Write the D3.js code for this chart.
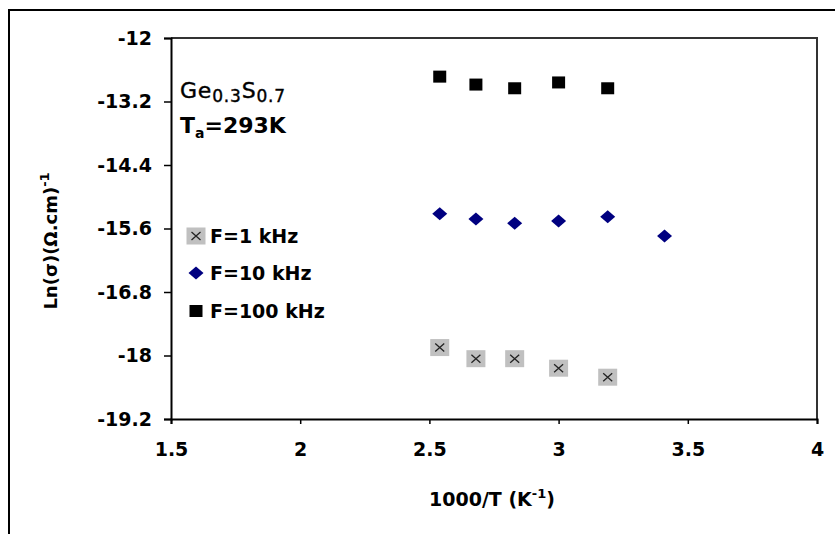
<!DOCTYPE html>
<html>
<head>
<meta charset="utf-8">
<script src="https://cdn.jsdelivr.net/npm/d3@7"></script>
<style>
  body { margin: 0; background: #fff; }
  svg text { font-family: "DejaVu Sans", sans-serif; font-weight: bold; fill: #000; }
</style>
</head>
<body>
<script>
var width = 835,
    height = 534;

// values
var xTicks = [1.5, 2, 2.5, 3, 3.5, 4];
var yTicks = [-12, -13.2, -14.4, -15.6, -16.8, -18, -19.2];

var x1k = [2.54, 2.68, 2.83, 3.0, 3.19];
var f1k = [-17.85, -18.06, -18.06, -18.24, -18.41];

var x10k = [2.54, 2.68, 2.83, 3.0, 3.19, 3.41];
var f10k = [-15.32, -15.42, -15.50, -15.46, -15.38, -15.74];

var x100k = [2.54, 2.68, 2.83, 3.0, 3.19];
var f100k = [-12.73, -12.88, -12.95, -12.84, -12.95];

var legendLabels = ["F=1 kHz", "F=10 kHz", "F=100 kHz"];

var margin = {left: 171, top: 38, right: 18, bottom: 115};

var svg = d3.select("body").append("svg")
    .attr("width", width)
    .attr("height", height);

// outer frame (runs off the right and bottom edges)
svg.append("rect")
    .attr("x", 9).attr("y", 10)
    .attr("width", 900).attr("height", 600)
    .attr("fill", "none")
    .attr("stroke", "#000")
    .attr("stroke-width", 2);

var x = d3.scaleLinear()
    .domain([1.5, 4])
    .range([margin.left, width - margin.right]);

var y = d3.scaleLinear()
    .domain([-19.2, -12])
    .range([height - margin.bottom, margin.top]);

// plot box top and right
svg.append("path")
    .attr("d", "M" + x(1.5) + "," + y(-12) + "H" + x(4) + "V" + y(-19.2))
    .attr("fill", "none")
    .attr("stroke", "#333")
    .attr("stroke-width", 2);

var yAxis = svg.append("g")
    .attr("transform", "translate(" + x(1.5) + ",0)")
    .call(d3.axisLeft(y).tickValues(yTicks).tickSize(7).tickPadding(12)
        .tickFormat(function(d) { return String(d); }));

var xAxis = svg.append("g")
    .attr("transform", "translate(0," + y(-19.2) + ")")
    .call(d3.axisBottom(x).tickValues(xTicks).tickSize(5).tickPadding(19)
        .tickFormat(function(d) { return String(d); }));

[yAxis, xAxis].forEach(function(a) {
  a.selectAll(".domain").attr("stroke", "#000").attr("stroke-width", 2);
  a.selectAll(".tick line").attr("stroke", "#000").attr("stroke-width", 1.5);
  a.selectAll(".tick text").style("font-size", "19px").attr("fill", "#000");
});

// marker drawing
function cross(g, cx, cy) {
  g.append("rect")
      .attr("x", cx - 9.5).attr("y", cy - 8.5)
      .attr("width", 19).attr("height", 17)
      .attr("fill", "#c0c0c0");
  g.append("path")
      .attr("d", "M" + (cx - 4.5) + "," + (cy - 4) + "L" + (cx + 4.5) + "," + (cy + 4) +
                 "M" + (cx + 4.5) + "," + (cy - 4) + "L" + (cx - 4.5) + "," + (cy + 4))
      .attr("stroke", "#222")
      .attr("stroke-width", 1.3);
}
function diamond(g, cx, cy) {
  g.append("path")
      .attr("d", "M" + cx + "," + (cy - 6.5) + "L" + (cx + 7.5) + "," + cy +
                 "L" + cx + "," + (cy + 6.5) + "L" + (cx - 7.5) + "," + cy + "Z")
      .attr("fill", "#000080");
}
function square(g, cx, cy) {
  g.append("rect")
      .attr("x", cx - 6.5).attr("y", cy - 6)
      .attr("width", 13).attr("height", 12)
      .attr("fill", "#000");
}

var pts = svg.append("g");
x1k.forEach(function(v, i) { cross(pts, x(v), y(f1k[i])); });
x10k.forEach(function(v, i) { diamond(pts, x(v), y(f10k[i])); });
x100k.forEach(function(v, i) { square(pts, x(v), y(f100k[i])); });

// legend
var leg = svg.append("g");
var markers = [cross, diamond, square];
var legY = [236, 273, 311];
legendLabels.forEach(function(t, i) {
  markers[i](leg, 196, legY[i]);
  leg.append("text")
      .attr("x", 210).attr("y", legY[i] + 7)
      .style("font-size", "19px")
      .text(t);
});

// sample annotation
var ge = svg.append("text")
    .attr("x", 180).attr("y", 98)
    .style("font-size", "22px")
    .style("font-weight", "normal")
    .style("letter-spacing", "0.8px")
    .style("stroke", "#000").style("stroke-width", 0.4);
ge.append("tspan").text("Ge");
ge.append("tspan").attr("dy", 4).style("font-size", "17px").text("0.3");
ge.append("tspan").attr("dy", -4).text("S");
ge.append("tspan").attr("dy", 4).style("font-size", "17px").text("0.7");

var ta = svg.append("text")
    .attr("x", 180).attr("y", 133)
    .style("font-size", "22px");
ta.append("tspan").text("T");
ta.append("tspan").attr("dy", 5).style("font-size", "14px").text("a");
ta.append("tspan").attr("dy", -5).text("=293K");

// axis titles
var xt = svg.append("text")
    .attr("x", 492).attr("y", 506)
    .attr("text-anchor", "middle")
    .style("font-size", "19px");
xt.append("tspan").text("1000/T (K");
xt.append("tspan").attr("dy", -8).style("font-size", "13px").text("-1");
xt.append("tspan").attr("dy", 8).text(")");

var yt = svg.append("text")
    .attr("transform", "translate(57,241) rotate(-90)")
    .attr("text-anchor", "middle")
    .style("font-size", "18px");
yt.append("tspan").text("Ln(σ)(Ω.cm)");
yt.append("tspan").attr("dy", -8).style("font-size", "13px").text("-1");
</script>
</body>
</html>
